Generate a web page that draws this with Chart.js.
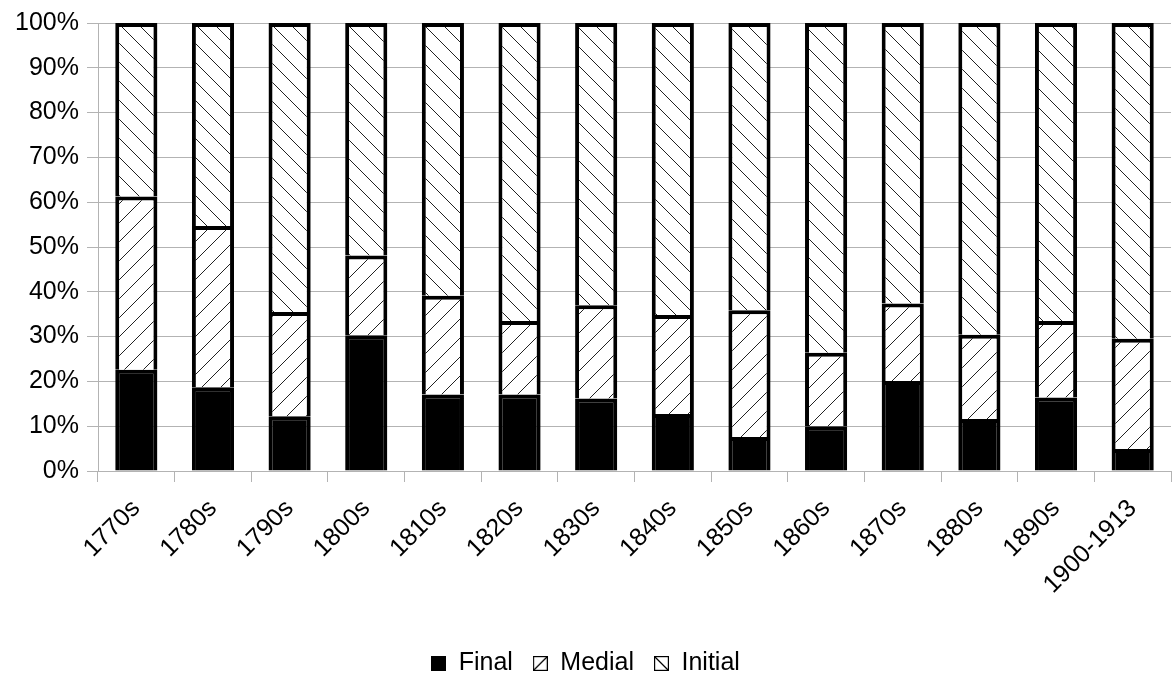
<!DOCTYPE html>
<html>
<head>
<meta charset="utf-8">
<script src="https://cdn.jsdelivr.net/npm/chart.js@4/dist/chart.umd.min.js"></script>
<style>
    html, body { margin: 0; padding: 0; background: #fff; }
    #wrap { width: 1172px; height: 674px; }
</style>
</head>
<body>
<div id="wrap"><canvas id="chart" width="1172" height="674"></canvas></div>
<script>
// ===== Data (percent of each decade) =====
const decades = ['1770s', '1780s', '1790s', '1800s', '1810s', '1820s', '1830s', '1840s', '1850s', '1860s', '1870s', '1880s', '1890s', '1900-1913'];
const finalShare   = [22.6, 18.7, 12.2, 30.3, 17.1, 17.1, 16.2, 12.7, 7.6, 10.0, 20.1, 11.6, 16.4, 4.9];
const medialShare  = [38.7, 36.0, 23.3, 17.8, 22.0, 16.4, 20.8, 22.1, 28.3, 16.4, 17.3, 18.8, 17.1, 24.6];
const initialShare = [38.7, 45.3, 64.5, 51.9, 60.9, 66.5, 63.0, 65.2, 64.1, 73.6, 62.6, 69.6, 66.5, 70.5];
const yTicks = [0, 10, 20, 30, 40, 50, 60, 70, 80, 90, 100];

// hatch fill, dir = 1 for "/" and -1 for "\"
function makeHatch(dir) {
    const s = 19;
    const c = document.createElement('canvas');
    c.width = s;
    c.height = s;
    const ctx = c.getContext('2d');
    ctx.fillStyle = '#fff';
    ctx.fillRect(0, 0, s, s);
    ctx.strokeStyle = '#222';
    ctx.lineWidth = 1;
    ctx.beginPath();
    if (dir > 0) {
        ctx.moveTo(-1, s + 1); ctx.lineTo(s + 1, -1);
    } else {
        ctx.moveTo(-1, -1); ctx.lineTo(s + 1, s + 1);
    }
    ctx.stroke();
    return ctx.createPattern(c, 'repeat');
}

// small legend swatch: 0 = solid, 1 = "/", -1 = "\"
function makeSwatch(dir) {
    const s = 15;
    const c = document.createElement('canvas');
    c.width = s;
    c.height = s;
    const ctx = c.getContext('2d');
    if (dir === 0) {
        ctx.fillStyle = '#000';
        ctx.fillRect(0, 0, s, s);
        return c;
    }
    ctx.fillStyle = '#fff';
    ctx.fillRect(0, 0, s, s);
    ctx.strokeStyle = '#000';
    ctx.lineWidth = 1.2;
    ctx.strokeRect(0.6, 0.6, s - 1.2, s - 1.2);
    ctx.beginPath();
    if (dir > 0) {
        ctx.moveTo(1, s - 1); ctx.lineTo(s - 1, 1);
    } else {
        ctx.moveTo(1, 1); ctx.lineTo(s - 1, s - 1);
    }
    ctx.stroke();
    return c;
}

const swatches = [makeSwatch(0), makeSwatch(1), makeSwatch(-1)];

Chart.defaults.font.family = '"Liberation Sans", Arial, sans-serif';
Chart.defaults.font.size = 25;
Chart.defaults.color = '#000';

const GRID = '#b3b3b3';

new Chart(document.getElementById('chart'), {
    type: 'bar',
    data: {
        labels: decades,
        datasets: [
            { label: 'Final', data: finalShare, backgroundColor: '#000', borderColor: '#000', borderWidth: 4 },
            { label: 'Medial', data: medialShare, backgroundColor: makeHatch(1), borderColor: '#000', borderWidth: 4 },
            { label: 'Initial', data: initialShare, backgroundColor: makeHatch(-1), borderColor: '#000', borderWidth: 4 }
        ]
    },
    options: {
        responsive: false,
        animation: false,
        devicePixelRatio: 1,
        categoryPercentage: 1,
        barPercentage: 0.55,
        layout: { padding: { top: 18, right: 1, left: 0, bottom: -12 } },
        scales: {
            x: {
                stacked: true,
                grid: { color: GRID, drawOnChartArea: false, tickLength: 11, offset: true },
                border: { color: GRID },
                ticks: { minRotation: 45, maxRotation: 45, padding: 12 },
                afterFit: scale => { scale.height = 160; }
            },
            y: {
                stacked: true,
                min: 0,
                max: 100,
                afterBuildTicks: scale => { scale.ticks = yTicks.map(v => ({ value: v })); },
                grid: { color: GRID, tickLength: 11 },
                border: { color: GRID },
                ticks: { padding: 8, callback: v => v + '%' },
                afterFit: scale => { scale.width = 98; }
            }
        },
        plugins: {
            tooltip: { enabled: false },
            legend: {
                position: 'bottom',
                labels: {
                    usePointStyle: true,
                    boxWidth: 15,
                    boxHeight: 15,
                    padding: 20,
                    generateLabels: chart => Chart.defaults.plugins.legend.labels.generateLabels(chart)
                        .map((item, i) => Object.assign(item, { pointStyle: swatches[i] }))
                }
            }
        }
    }
});
</script>
</body>
</html>
